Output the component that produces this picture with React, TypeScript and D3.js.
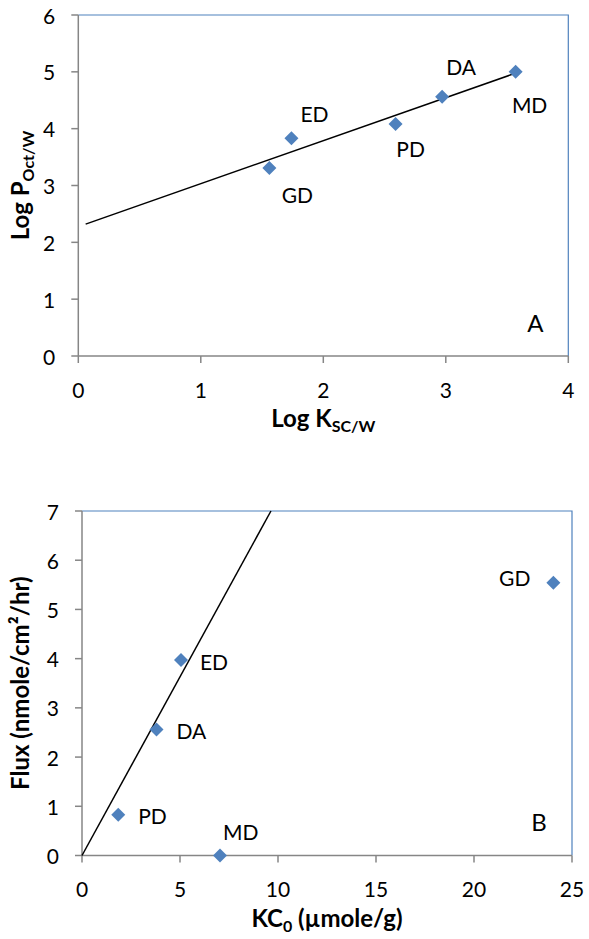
import React from "react";
import * as d3 from "d3";

// ---------- Panel A data ----------
const drugsA = ["GD", "ED", "PD", "DA", "MD"];
const logKscw = [1.56, 1.74, 2.59, 2.97, 3.57];
const logPoctw = [3.31, 3.83, 4.08, 4.56, 5.0];
const trendAx = [0.06, 3.56];
const trendAy = [2.32, 4.97];
const ticksAx = [0, 1, 2, 3, 4];
const ticksAy = [0, 1, 2, 3, 4, 5, 6];

// ---------- Panel B data ----------
const drugsB = ["PD", "DA", "ED", "MD", "GD"];
const kc0 = [1.85, 3.8, 5.05, 7.04, 24.05];
const flux = [0.83, 2.56, 3.97, 0, 5.54];
const trendBx = [0, 9.64];
const trendBy = [0, 7];
const ticksBx = [0, 5, 10, 15, 20, 25];
const ticksBy = [0, 1, 2, 3, 4, 5, 6, 7];

// label offsets (style)
const offA: Record<string, [number, number, string]> = {
  GD: [28, 27, "middle"],
  ED: [23, -25, "middle"],
  PD: [15, 24, "middle"],
  DA: [19, -30, "middle"],
  MD: [14, 33, "middle"],
};
const offB: Record<string, [number, number, string]> = {
  PD: [20, 1, "start"],
  DA: [20, 1, "start"],
  ED: [19, 1, "start"],
  MD: [3, -24, "start"],
  GD: [-23, -5, "end"],
};

const FONT = "Lato, 'Open Sans', sans-serif";
const BLUE = "#4F81BD";
const GRAY = "#868686";
const FS = 21;

function Diamond({ x, y }: { x: number; y: number }) {
  const r = 7;
  return (
    <path
      d={`M${x},${y - r}L${x + r},${y}L${x},${y + r}L${x - r},${y}Z`}
      fill={BLUE}
    />
  );
}

function Panel(props: {
  x: d3.ScaleLinear<number, number>;
  y: d3.ScaleLinear<number, number>;
  xs: number[];
  ys: number[];
  names: string[];
  offs: Record<string, [number, number, string]>;
  tx: number[];
  ty: number[];
  ticksX: number[];
  ticksY: number[];
  letter: string;
  xTitle: React.ReactNode;
  yTitle: React.ReactNode;
}) {
  const { x, y } = props;
  const [x0, x1] = x.range();
  const [y0, y1] = y.range();
  const line = d3
    .line<number>()
    .x((d) => x(d))
    .y((_, i) => y(props.ty[i]));
  return (
    <g fontFamily={FONT}>
      <path d={`M${x0},${y1}H${x1}V${y0}`} fill="none" stroke={BLUE} strokeWidth={1.2} />
      <line x1={x0} x2={x1} y1={y0} y2={y0} stroke={GRAY} strokeWidth={1.5} />
      <line x1={x0} x2={x0} y1={y0} y2={y1} stroke={GRAY} strokeWidth={1.5} />
      {props.ticksX.map((t) => (
        <g key={"tx" + t}>
          <line x1={x(t)} x2={x(t)} y1={y0} y2={y0 + 7} stroke={GRAY} strokeWidth={1.5} />
          <text x={x(t)} y={y0 + 33} fontSize={FS} textAnchor="middle" dominantBaseline="central" fill="#000">
            {t}
          </text>
        </g>
      ))}
      {props.ticksY.map((t) => (
        <g key={"ty" + t}>
          <line x1={x0 - 7} x2={x0} y1={y(t)} y2={y(t)} stroke={GRAY} strokeWidth={1.5} />
          <text x={x0 - 23} y={y(t)} fontSize={FS} textAnchor="end" dominantBaseline="central" fill="#000">
            {t}
          </text>
        </g>
      ))}
      <path d={line(props.tx) || ""} stroke="#000" strokeWidth={1.5} fill="none" />
      {props.xs.map((v, i) => (
        <Diamond key={"p" + i} x={x(v)} y={y(props.ys[i])} />
      ))}
      {props.names.map((n, i) => {
        const o = props.offs[n];
        return (
          <text
            key={"l" + n}
            x={x(props.xs[i]) + o[0]}
            y={y(props.ys[i]) + o[1]}
            fontSize={FS}
            textAnchor={o[2] as any}
            dominantBaseline="central"
            fill="#000"
          >
            {n}
          </text>
        );
      })}
      <text x={x1 - 33} y={y0 - 34} fontSize={24} textAnchor="middle" dominantBaseline="central" fill="#000">
        {props.letter}
      </text>
      <text
        x={(x0 + x1) / 2}
        y={y0 + 71}
        fontSize={24}
        fontWeight="bold"
        textAnchor="middle"
        fill="#000"
      >
        {props.xTitle}
      </text>
      <text
        transform={`translate(29,${(y0 + y1) / 2}) rotate(-90)`}
        fontSize={24}
        fontWeight="bold"
        textAnchor="middle"
        fill="#000"
      >
        {props.yTitle}
      </text>
    </g>
  );
}

export default function App() {
  const xA = d3.scaleLinear().domain([0, 4]).range([78.3, 568.3]);
  const yA = d3.scaleLinear().domain([0, 6]).range([356, 15]);
  const xB = d3.scaleLinear().domain([0, 25]).range([82, 572]);
  const yB = d3.scaleLinear().domain([0, 7]).range([855.5, 511]);
  return (
    <svg
      width={589}
      height={939}
      style={{ position: "absolute", left: 0, top: 0, background: "#fff" }}
    >
      <rect width={589} height={939} fill="#fff" />
      <Panel
        x={xA}
        y={yA}
        xs={logKscw}
        ys={logPoctw}
        names={drugsA}
        offs={offA}
        tx={trendAx}
        ty={trendAy}
        ticksX={ticksAx}
        ticksY={ticksAy}
        letter="A"
        xTitle={
          <>
            <tspan>Log K</tspan>
            <tspan fontSize={16} dy={5}>SC/W</tspan>
          </>
        }
        yTitle={
          <>
            <tspan>Log P</tspan>
            <tspan fontSize={16} dy={5}>Oct/W</tspan>
          </>
        }
      />
      <Panel
        x={xB}
        y={yB}
        xs={kc0}
        ys={flux}
        names={drugsB}
        offs={offB}
        tx={trendBx}
        ty={trendBy}
        ticksX={ticksBx}
        ticksY={ticksBy}
        letter="B"
        xTitle={
          <>
            <tspan>KC</tspan>
            <tspan fontSize={16} dy={5}>0</tspan>
            <tspan dy={-5}> (µmole/g)</tspan>
          </>
        }
        yTitle={<tspan>Flux (nmole/cm²/hr)</tspan>}
      />
    </svg>
  );
}
